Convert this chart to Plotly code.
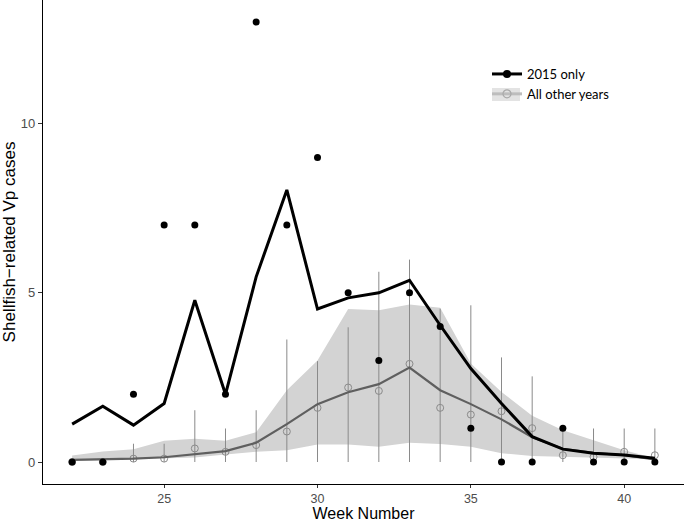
import plotly.graph_objects as go

weeks = list(range(22, 42))

# 2015 observed cases and smoothed line
cases_2015 = [0, 0, 2, 7, 7, 2, 13, 7, 9, 5, 3, 5, 4, 1, 0, 0, 1, 0, 0, 0]
smooth_2015 = [1.12, 1.65, 1.09, 1.73, 4.78, 2.0, 5.47, 8.04, 4.52, 4.85,
               5.0, 5.37, 4.04, 2.76, 1.73, 0.75, 0.38, 0.26, 0.21, 0.11]

# All other years: mean, error bar top/bottom, smoothed line, ribbon
mean_other = [0.0, 0.0, 0.1, 0.1, 0.4, 0.3, 0.5, 0.9, 1.6, 2.2,
              2.1, 2.9, 1.6, 1.4, 1.5, 1.0, 0.2, 0.15, 0.3, 0.2]
bar_top = [0.0, 0.0, 0.54, 0.54, 1.53, 0.99, 1.53, 3.62, 2.98, 3.98,
           5.62, 5.98, 4.53, 4.63, 3.09, 2.53, 1.0, 0.99, 0.99, 0.99]
bar_bottom = [0.0] * 20
smooth_other = [0.06, 0.07, 0.1, 0.14, 0.22, 0.32, 0.57, 1.12, 1.71, 2.06,
                2.3, 2.79, 2.12, 1.71, 1.26, 0.73, 0.39, 0.27, 0.2, 0.08]
ribbon_upper = [0.19, 0.31, 0.38, 0.63, 0.69, 0.63, 0.88, 2.12, 3.0, 4.52,
                4.48, 4.65, 4.56, 2.91, 2.07, 1.37, 0.94, 0.65, 0.35, 0.11]
ribbon_lower = [0.03, 0.05, 0.07, 0.1, 0.13, 0.22, 0.3, 0.35, 0.52, 0.52,
                0.45, 0.57, 0.53, 0.45, 0.26, 0.18, 0.16, 0.13, 0.11, 0.08]

x_ticks = [25, 30, 35, 40]
y_ticks = [0, 5, 10]

RIBBON = "#d3d3d3"
GREY_LINE = "#5f5f5f"
GREY_PT = "#8a8a8a"
FONT = "Liberation Sans"

fig = go.Figure()

# ribbon
fig.add_trace(go.Scatter(x=weeks, y=ribbon_lower, mode="lines", line=dict(width=0),
                         showlegend=False, hoverinfo="skip"))
fig.add_trace(go.Scatter(x=weeks, y=ribbon_upper, mode="lines", line=dict(width=0),
                         fill="tonexty", fillcolor=RIBBON, showlegend=False,
                         hoverinfo="skip"))

# error bars + open circles
fig.add_trace(go.Scatter(
    x=weeks, y=mean_other, mode="markers",
    marker=dict(symbol="circle-open", size=7, color=GREY_PT, line=dict(width=1, color=GREY_PT)),
    error_y=dict(type="data", symmetric=False,
                 array=[t - m for t, m in zip(bar_top, mean_other)],
                 arrayminus=[m - b for m, b in zip(mean_other, bar_bottom)],
                 color=GREY_PT, thickness=1, width=0),
    showlegend=False))

# grey smoothed line
fig.add_trace(go.Scatter(x=weeks, y=smooth_other, mode="lines",
                         line=dict(color=GREY_LINE, width=2.2), showlegend=False))

# black line 2015
fig.add_trace(go.Scatter(x=weeks, y=smooth_2015, mode="lines",
                         line=dict(color="black", width=3), showlegend=False))
# black dots 2015
fig.add_trace(go.Scatter(x=weeks, y=cases_2015, mode="markers",
                         marker=dict(color="black", size=7), showlegend=False))

# legend-only traces
fig.add_trace(go.Scatter(x=[None], y=[None], mode="lines+markers", name="2015 only",
                         line=dict(color="black", width=3),
                         marker=dict(color="black", size=8)))
fig.add_trace(go.Scatter(x=[None], y=[None], mode="lines+markers", name="All other years",
                         line=dict(color="#bdbdbd", width=3),
                         marker=dict(symbol="circle-open", size=8, color="#a9a9a9",
                                     line=dict(width=1.2, color="#a9a9a9"))))

W, H = 685, 522
L, R, T, B = 43, 1, 0, 38
pw, ph = W - L - R, H - T - B

def px2paper_x(px):
    return (px - L) / pw

def px2paper_y(py):
    return 1 - (py - T) / ph

# grey key background for "All other years"
fig.add_shape(type="rect", xref="paper", yref="paper",
              x0=px2paper_x(492), x1=px2paper_x(520),
              y0=px2paper_y(101), y1=px2paper_y(88),
              fillcolor="#e3e3e3", line=dict(width=0), layer="above")

fig.update_layout(
    width=W, height=H,
    margin=dict(l=L, r=R, t=T, b=B, autoexpand=False),
    plot_bgcolor="white", paper_bgcolor="white",
    font=dict(family=FONT, color="black"),
    legend=dict(x=px2paper_x(487), y=px2paper_y(59), xanchor="left", yanchor="top",
                traceorder="normal",
                bgcolor="rgba(0,0,0,0)", font=dict(family="Lato", size=13, color="black"),
                tracegroupgap=0, itemwidth=30),
    xaxis=dict(range=[21.05, 41.95], tickvals=x_ticks, ticktext=[str(v) for v in x_ticks],
               showgrid=False, zeroline=False, showline=True, linecolor="black", linewidth=1.3,
               ticks="outside", ticklen=3, tickcolor="#333333", tickwidth=1,
               tickfont=dict(family=FONT, size=12.5, color="#4d4d4d"),
               title=dict(text="Week Number", font=dict(family=FONT, size=16, color="black"), standoff=1)),
    yaxis=dict(range=[-0.65, 13.65], tickvals=y_ticks, ticktext=[str(v) for v in y_ticks],
               showgrid=False, zeroline=False, showline=True, linecolor="black", linewidth=1.3,
               ticks="outside", ticklen=4, tickcolor="#333333", tickwidth=1,
               tickfont=dict(family=FONT, size=13, color="#4d4d4d"),
               title=dict(text="Shellfish\u2212related Vp cases", font=dict(family=FONT, size=17, color="black"), standoff=2)),
)

fig.write_html("out.html", config={"displayModeBar": False},
               post_script="document.body.style.margin='0';document.body.style.overflow='hidden';")
